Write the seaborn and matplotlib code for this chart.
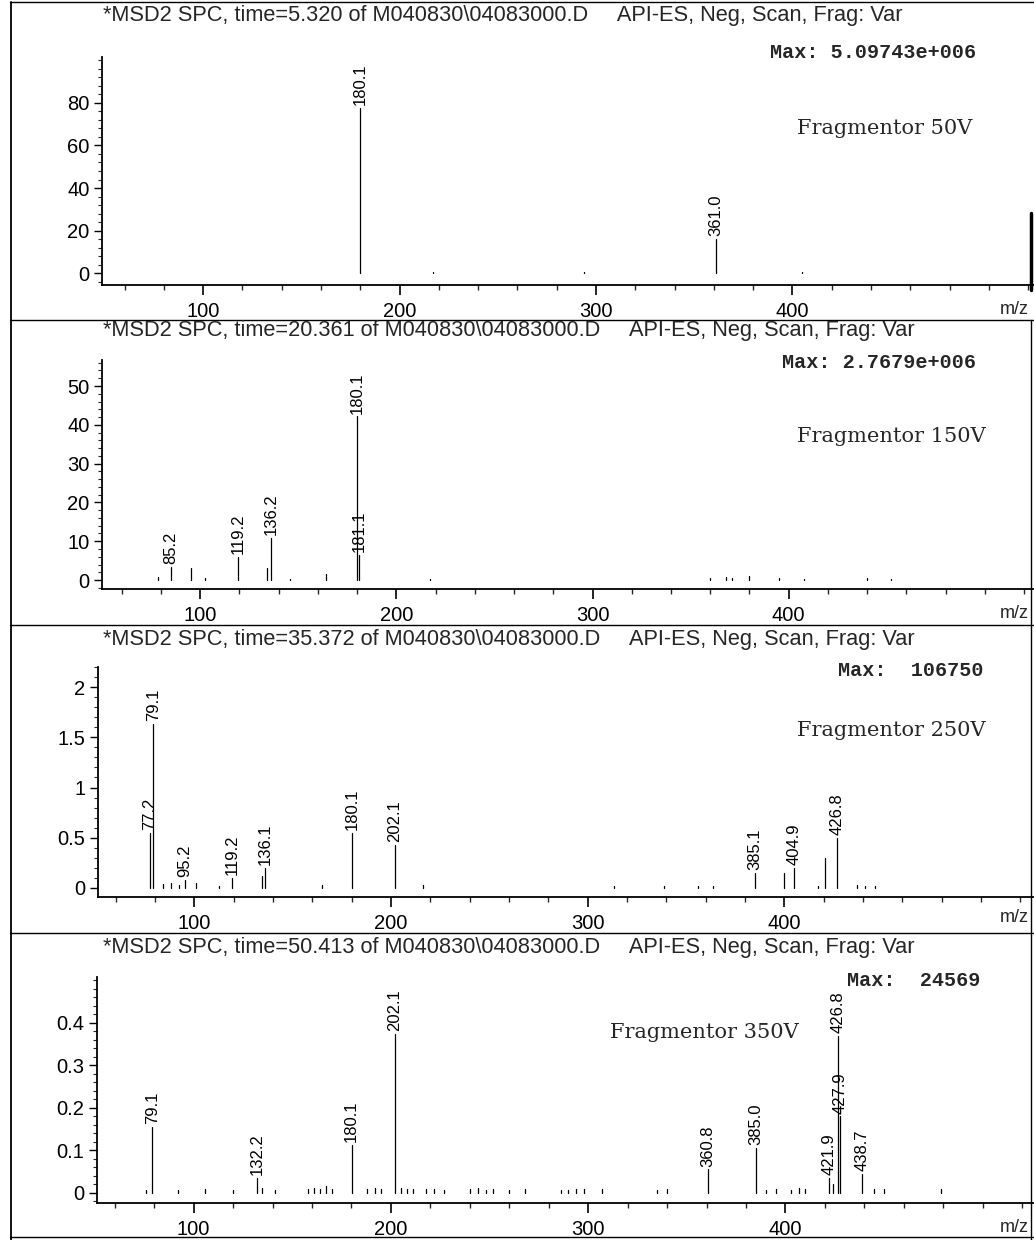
import numpy as np
import pandas as pd
import matplotlib
matplotlib.use("Agg")
import matplotlib.pyplot as plt
import seaborn as sns
from matplotlib.ticker import MultipleLocator, FixedLocator, FormatStrFormatter

sns.set_theme(style="ticks")
plt.rcParams['font.family'] = ['Liberation Sans', 'DejaVu Sans']

# ---- data (m/z, abundance) ----
titles = [
    "*MSD2 SPC, time=5.320 of M040830\\04083000.D     API-ES, Neg, Scan, Frag: Var",
    "*MSD2 SPC, time=20.361 of M040830\\04083000.D     API-ES, Neg, Scan, Frag: Var",
    "*MSD2 SPC, time=35.372 of M040830\\04083000.D     API-ES, Neg, Scan, Frag: Var",
    "*MSD2 SPC, time=50.413 of M040830\\04083000.D     API-ES, Neg, Scan, Frag: Var",
]
max_texts = ["Max: 5.09743e+006", "Max: 2.7679e+006", "Max:  106750", "Max:  24569"]
frag_texts = ["Fragmentor 50V", "Fragmentor 150V", "Fragmentor 250V", "Fragmentor 350V"]

mz_50 = [180.1, 361.0, 217.0, 294.0, 405.0]
ab_50 = [77.8, 16.0, 0.5, 0.5, 0.5]
lab_50 = ["180.1", "361.0"]
yt_50 = [0, 20, 40, 60, 80]

mz_150 = [78.3, 85.2, 95.5, 102.5, 119.2, 134.0, 136.2, 146.0, 164.0, 180.1, 181.1,
          217.0, 360.0, 368.0, 371.0, 380.0, 395.0, 408.0, 440.0, 452.0]
ab_150 = [0.8, 3.3, 3.0, 0.6, 6.0, 3.0, 10.8, 0.3, 1.5, 42.2, 6.5,
          0.3, 0.5, 0.8, 0.5, 1.0, 0.5, 0.4, 0.5, 0.4]
lab_150 = ["85.2", "119.2", "136.2", "180.1", "181.1"]
yt_150 = [0, 10, 20, 30, 40, 50]

mz_250 = [77.2, 79.1, 84.0, 88.0, 92.0, 95.2, 101.0, 112.5, 119.2, 134.5, 136.1, 165.0,
          180.1, 202.1, 216.5, 313.5, 339.0, 356.0, 364.0, 385.1, 400.0, 404.9, 417.0,
          420.8, 426.8, 437.0, 441.0, 446.0]
ab_250 = [0.55, 1.63, 0.04, 0.05, 0.03, 0.08, 0.05, 0.02, 0.1, 0.12, 0.2, 0.03,
          0.55, 0.43, 0.03, 0.02, 0.02, 0.02, 0.02, 0.15, 0.15, 0.2, 0.02,
          0.3, 0.5, 0.03, 0.02, 0.02]
lab_250 = ["77.2", "79.1", "95.2", "119.2", "136.1", "180.1", "202.1", "385.1", "404.9", "426.8"]
yt_250 = [0, 0.5, 1, 1.5, 2]

mz_350 = [76.0, 79.1, 92.0, 106.0, 120.0, 132.2, 134.5, 141.0, 158.0, 161.0, 164.0, 167.0,
          170.0, 180.1, 188.0, 192.0, 195.0, 202.1, 205.0, 208.0, 211.0, 218.0, 222.0,
          227.0, 240.0, 244.0, 248.0, 252.0, 260.0, 268.0, 286.0, 290.0, 294.0, 298.0,
          307.0, 335.0, 340.0, 360.8, 385.0, 390.0, 395.0, 403.0, 407.0, 410.0, 421.9,
          424.0, 426.8, 427.9, 438.7, 445.0, 450.0, 479.0]
ab_350 = [0.006, 0.155, 0.006, 0.01, 0.006, 0.035, 0.012, 0.006, 0.008, 0.012, 0.01, 0.015,
          0.01, 0.113, 0.01, 0.012, 0.008, 0.375, 0.012, 0.008, 0.01, 0.01, 0.008,
          0.006, 0.008, 0.012, 0.006, 0.01, 0.006, 0.008, 0.006, 0.006, 0.008, 0.01,
          0.01, 0.006, 0.008, 0.055, 0.105, 0.006, 0.008, 0.006, 0.012, 0.01, 0.035,
          0.02, 0.37, 0.18, 0.045, 0.008, 0.008, 0.01]
lab_350 = ["79.1", "132.2", "180.1", "202.1", "360.8", "385.0", "421.9", "426.8", "427.9", "438.7"]
yt_350 = [0, 0.1, 0.2, 0.3, 0.4]

mz_sets = [mz_50, mz_150, mz_250, mz_350]
ab_sets = [ab_50, ab_150, ab_250, ab_350]
lab_sets = [lab_50, lab_150, lab_250, lab_350]
yt_sets = [yt_50, yt_150, yt_250, yt_350]

# ---- layout (pixels on a 1034 x 1240 canvas) ----
W, H = 1034, 1240
ax_left = [102, 102, 98, 97]
ax_top = [57, 360, 667, 977]
ax_bot = [285, 589, 897, 1203]
xlims = [(48.5, 523), (50, 525), (51, 527), (51, 526)]
ylims = [(-5.6, 101.6), (-2.3, 56.7), (-0.09, 2.2), (-0.024, 0.508)]
title_y = [15, 331, 640, 948]
max_xy = [(770, 52), (782, 363), (838, 671), (847, 980)]
frag_xy = [(797, 129), (797, 437), (797, 730), (610, 1033)]
mz_row = [310, 613, 917, 1228]
sep_y = [2, 320, 625, 933, 1237]

fig = plt.figure(figsize=(W / 100, H / 100), dpi=100)
fig.patch.set_facecolor("white")


def fx(x):
    return x / W


def fy(y):
    return 1 - y / H


for i in range(4):
    ax = fig.add_axes([fx(ax_left[i]), fy(ax_bot[i]), fx(W - ax_left[i]),
                       (ax_bot[i] - ax_top[i]) / H])
    ax.set_facecolor("none")

    # build stick table: every peak is a two-point line from 0 to its abundance
    rows = []
    for k, (m, a) in enumerate(zip(mz_sets[i], ab_sets[i])):
        rows.append({"peak": k, "mz": m, "ab": 0.0})
        rows.append({"peak": k, "mz": m, "ab": a})
    df = pd.DataFrame(rows)
    sns.lineplot(data=df, x="mz", y="ab", units="peak", estimator=None, sort=False,
                 color="black", lw=0.9, ax=ax, legend=False)

    # peak labels, vertical above the stick
    peaks = dict(zip(mz_sets[i], ab_sets[i]))
    for lab in lab_sets[i]:
        m = float(lab)
        ax.annotate(lab, (m, peaks[m]), xytext=(0, 2), textcoords="offset points",
                    rotation=90, ha="center", va="bottom", fontsize=12, color="black")

    ax.set_xlim(*xlims[i])
    ax.set_ylim(*ylims[i])
    ax.set_xlabel("")
    ax.set_ylabel("")
    sns.despine(ax=ax, top=True, right=True)
    for s in ["left", "bottom"]:
        ax.spines[s].set_linewidth(1.3)
        ax.spines[s].set_color("black")
    ax.xaxis.set_major_locator(FixedLocator([100, 200, 300, 400]))
    ax.xaxis.set_minor_locator(MultipleLocator(20))
    step = yt_sets[i][1] - yt_sets[i][0]
    ax.yaxis.set_major_locator(FixedLocator(yt_sets[i]))
    ax.yaxis.set_minor_locator(MultipleLocator(step / 5))
    ax.yaxis.set_major_formatter(FormatStrFormatter("%g"))
    ax.tick_params(axis="x", which="major", length=7, width=1.2, pad=5,
                   labelsize=14.5, colors="black")
    ax.tick_params(axis="x", which="minor", length=3.5, width=1.0)
    ax.tick_params(axis="y", which="major", length=6, width=1.0, pad=3,
                   labelsize=14.5, colors="black")
    ax.tick_params(axis="y", which="minor", length=3, width=0.8)
    ax.grid(False)

    fig.text(fx(103), fy(title_y[i]), titles[i], fontsize=15.7, ha="left", va="center")
    fig.text(fx(max_xy[i][0]), fy(max_xy[i][1]), max_texts[i], fontsize=14.5,
             family="Liberation Mono", weight="bold", ha="left", va="center")
    fig.text(fx(frag_xy[i][0]), fy(frag_xy[i][1]), frag_texts[i], fontsize=15,
             family="DejaVu Serif", ha="left", va="center")
    fig.text(fx(1029), fy(mz_row[i]), "m/z", fontsize=13, ha="right", va="center")

# panel frame lines from the printout
for y in sep_y:
    fig.add_artist(plt.Line2D([fx(10), 1], [fy(y), fy(y)], color="black", lw=1.0))
fig.add_artist(plt.Line2D([fx(11), fx(11)], [fy(2), fy(1240)], color="black", lw=1.3))
fig.add_artist(plt.Line2D([fx(1031), fx(1031)], [fy(320), fy(1240)], color="black", lw=1.0))
fig.add_artist(plt.Line2D([fx(1031), fx(1031)], [fy(213), fy(290)], color="black", lw=2.5))

fig.savefig("out.png", dpi=100, facecolor="white")
